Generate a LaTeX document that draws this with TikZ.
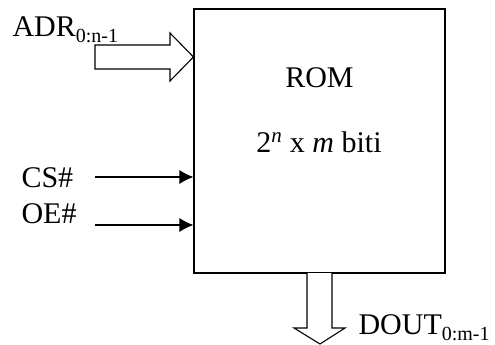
\documentclass[tikz,border=0pt]{standalone}
\usepackage{fontspec}
\setmainfont{Liberation Serif}
\usetikzlibrary{arrows.meta}
\begin{document}
\begin{tikzpicture}[x=1pt,y=-1pt,line width=1.1pt,
  txt/.style={inner sep=0pt,font=\fontsize{30}{30}\selectfont},
  lbl/.style={txt,anchor=base west},
  sig/.style={-{Latex[length=14pt,width=14pt]}},
  bus/.style={draw,line join=miter,fill=white}]
\useasboundingbox (0,0) rectangle (495,345);
\node[draw,minimum width=251pt,minimum height=264pt,inner sep=0pt] (rom) at (319.5,141) {};
\node[txt,anchor=base] (romt) at (319.5,87) {ROM};
\node[txt,anchor=base] (size) at (319,152) {2\textsuperscript{\textit{n}} x \textit{m} biti};
% ADR bus
\node[lbl] (adr) at (12,37) {ADR\raisebox{-0.2em}{\fontsize{20}{20}\selectfont 0:n-1}};
\coordinate (adrtip) at (rom.west |- 0,57);
\draw[bus] (95,45) -- (170,45) -- (170,33) -- (adrtip) -- (170,81) -- (170,69) -- (95,69) -- cycle;
% CS, OE
\node[lbl] (cs) at (21,187) {CS\#};
\node[lbl] (oe) at (21,223) {OE\#};
\coordinate (cs0) at (95,177);
\coordinate (oe0) at (95,225);
\draw[sig] (cs0) -- (rom.west |- cs0);
\draw[sig] (oe0) -- (rom.west |- oe0);
% DOUT bus
\coordinate (dtip) at (320,344);
\draw[bus] (307,273) -- (307,328) -- (294,328) -- (dtip) -- (345,328) -- (332,328) -- (332,273);
\node[lbl] (dout) at (358,334) {DOUT\raisebox{-0.2em}{\fontsize{20}{20}\selectfont 0:m-1}};
\end{tikzpicture}
\end{document}
